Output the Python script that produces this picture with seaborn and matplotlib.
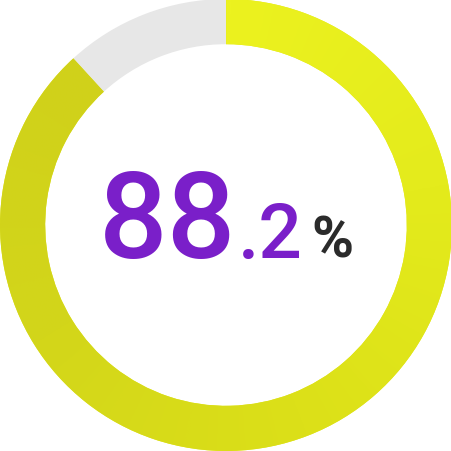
import numpy as np
import seaborn as sns
import matplotlib.pyplot as plt
from matplotlib.colors import LinearSegmentedColormap

# gauge value
value = 88.2
parts = [value, 100 - value]
part_colors = ["#e6ea1d", "#e7e7e7"]
big_txt = "88"
small_txt = ".2"
unit_txt = "%"

sns.set_theme(style="white")
plt.rcParams['font.family'] = ['Roboto', 'DejaVu Sans']

fig = plt.figure(figsize=(4.52, 4.52), dpi=100)
ax = fig.add_axes([0, 0, 1, 1])

wedges, _ = ax.pie(parts, colors=part_colors, startangle=90, counterclock=False,
                   radius=1.0, wedgeprops=dict(width=0.2, linewidth=0))

# conic gradient on the filled part, bright at the start, darker at the end
n = 600
xx, yy = np.meshgrid(np.linspace(-1, 1, n), np.linspace(-1, 1, n))
ang = np.mod(np.arctan2(xx, yy), 2 * np.pi) / (2 * np.pi)
frac = np.clip(ang / (value / 100), 0, 1)
cmap = LinearSegmentedColormap.from_list("g", ["#ecf21f", "#e4eb1c", "#dce018", "#d3d61a", "#d0d11a"])
img = ax.imshow(frac, cmap=cmap, extent=[-1, 1, -1, 1], origin="lower", zorder=2,
                interpolation="bilinear")
img.set_clip_path(wedges[0])

ax.set_xlim(-1, 1)
ax.set_ylim(-1, 1)
ax.axis("off")

base = (226 - 258) / 226
ax.text((99 - 226) / 226, base, big_txt, color="#7a1fc9", fontsize=87, fontweight="medium",
        ha="left", va="baseline", zorder=3)
ax.text((238 - 226) / 226, base, small_txt, color="#7a1fc9", fontsize=55, fontweight="medium",
        ha="left", va="baseline", zorder=3)
ax.text((311 - 226) / 226, base, unit_txt, color="#2b2b2b", fontsize=41, fontweight="bold",
        ha="left", va="baseline", zorder=3)

fig.savefig("out.png", dpi=100, facecolor="white")
